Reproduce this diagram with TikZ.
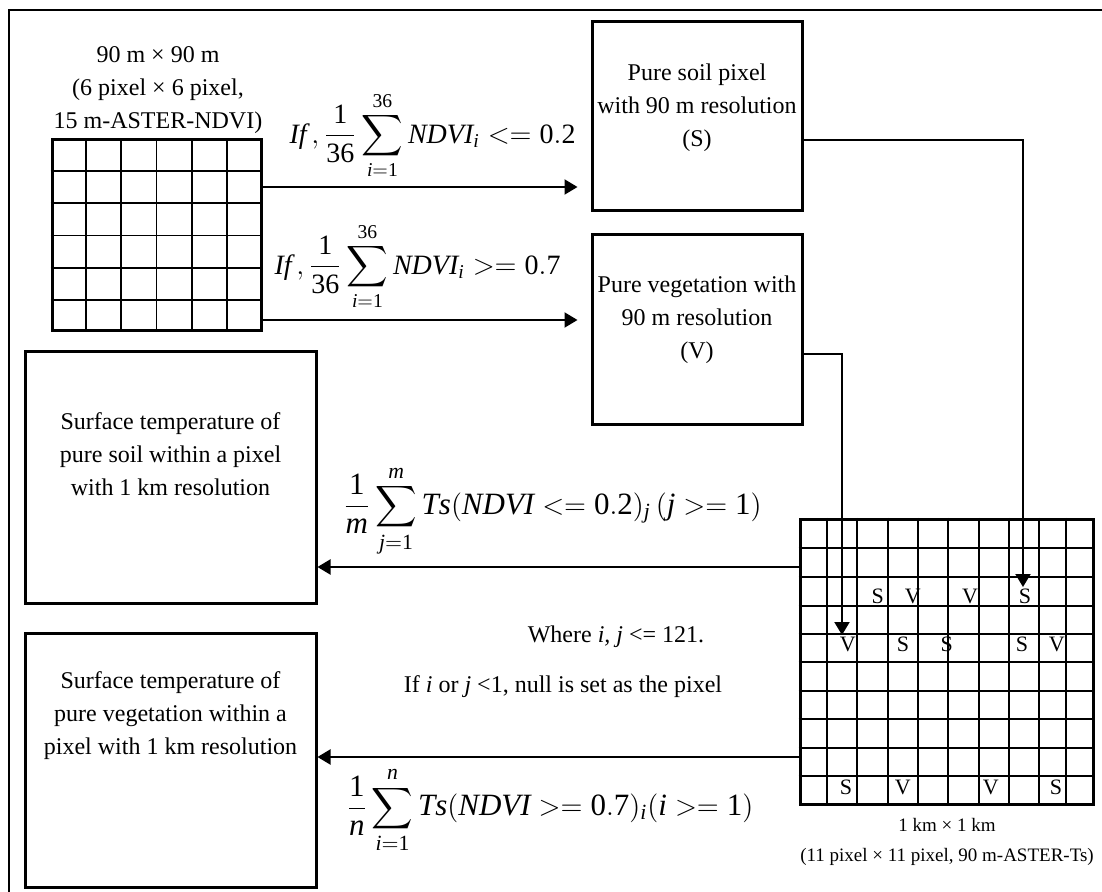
\documentclass[tikz,border=0pt]{standalone}
\usepackage{exscale}
\usepackage{fontspec}
\setmainfont{Liberation Serif}
\usetikzlibrary{arrows.meta,calc}

\begin{document}
\begin{tikzpicture}[x=0.5pt,y=-0.5pt,
  box/.style={draw,line width=1.5pt,inner sep=0pt},
  conn/.style={line width=1pt,-{Triangle[length=6.5pt,width=7.5pt]}},
  gridline/.style={line width=0.9pt},
  txt/.style={font=\fontsize{12}{16.5}\selectfont,align=center,inner sep=0pt},
  small/.style={font=\fontsize{9.5}{15}\selectfont,align=center,inner sep=0pt},
  pix/.style={font=\fontsize{11}{12}\selectfont,inner sep=0pt},
  eqa/.style={inner sep=0pt,font=\fontsize{14}{17}\selectfont},
  eqb/.style={inner sep=0pt,font=\fontsize{15.5}{19}\selectfont}]
\useasboundingbox (0,0) rectangle (1102,892);
\draw[line width=0.8pt] (1102,10) -- (9,10) -- (9,892);

\node[box,minimum width=104.5pt,minimum height=95.5pt] (ndvi) at (156.5,235.5) {};
\node[box,minimum width=105pt,minimum height=94.5pt] (soil) at (697,116.5) {};
\node[box,minimum width=105pt,minimum height=95pt] (veg) at (697,330) {};
\node[box,minimum width=145.5pt,minimum height=125.5pt] (tsoil) at (170.5,477.5) {};
\node[box,minimum width=145.5pt,minimum height=127pt] (tveg) at (170.5,760) {};
\node[box,minimum width=146.65pt,minimum height=142.35pt] (tsgrid) at (946.65,661.65) {};

\foreach \i in {1,...,5} {
  \draw[gridline] ($(ndvi.north west)!\i/6!(ndvi.north east)$) -- ($(ndvi.south west)!\i/6!(ndvi.south east)$);
  \draw[gridline] ($(ndvi.north west)!\i/6!(ndvi.south west)$) -- ($(ndvi.north east)!\i/6!(ndvi.south east)$);
}
\foreach \x in {826.7,857.3,887.7,918.3,948.3,979,1009.3,1039.3,1066}
  \draw[gridline] (tsgrid.north -| \x,0) -- (tsgrid.south -| \x,0);
\foreach \y in {548.3,576.7,606,634,662.3,690.7,719,747.7,776}
  \draw[gridline] (tsgrid.west |- 0,\y) -- (tsgrid.east |- 0,\y);

\foreach \x/\y/\t [count=\k] in {877.7/596/S,912.7/596/V,970/596/V,1025/596/S,
    847.7/644/V,903/644/S,946.7/644/S,1022/644/S,1056.7/644/V,
    846/787/S,902.7/787/V,990.7/787/V,1056/787/S}
  \node[pix] (px\k) at (\x,\y) {\t};

\node[txt] (ndvilbl) at (158,90) {90 m × 90 m\\(6 pixel × 6 pixel,\\15 m-ASTER-NDVI)};
\node[txt] (soiltxt) at ($(soil)+(0,-9)$) {Pure soil pixel\\with 90 m resolution\\(S)};
\node[txt] (vegtxt) at ($(veg)+(0,-10)$) {Pure vegetation with\\90 m resolution\\(V)};
\node[txt] (tsoiltxt) at ($(tsoil)+(0,-23)$) {Surface temperature of\\pure soil within a pixel\\with 1 km resolution};
\node[txt] (tvegtxt) at ($(tveg)+(0,-44)$) {Surface temperature of\\pure vegetation within a\\pixel with 1 km resolution};
\node[small] (tslbl) at (947,842) {1 km × 1 km\\(11 pixel × 11 pixel, 90 m-ASTER-Ts)};
\node[txt] (where) at (616,637) {Where \textit{i, j} <= 121.};
\node[txt] (ifnull) at (563,687) {If \textit{i} or \textit{j} <1, null is set as the pixel};

\node[eqa,anchor=south] (fsoil) at (432.5,180) {$\displaystyle \mathit{If}\,,\frac{\mathrm{1}}{\mathrm{36}}\sum_{\mathit{i}=\mathrm{1}}^{\mathrm{36}}\mathit{NDVI}_{\mathit{i}} <= \mathrm{0.2}$};
\node[eqa,anchor=south] (fveg) at (417.5,311) {$\displaystyle \mathit{If}\,,\frac{\mathrm{1}}{\mathrm{36}}\sum_{\mathit{i}=\mathrm{1}}^{\mathrm{36}}\mathit{NDVI}_{\mathit{i}} >= \mathrm{0.7}$};
\node[eqb,anchor=south] (ftsoil) at (552.5,557) {$\displaystyle \frac{\mathrm{1}}{\mathit{m}}\sum_{\mathit{j}=\mathrm{1}}^{\mathit{m}}\mathit{Ts}(\mathit{NDVI} <= \mathrm{0.2})_{\mathit{j}}\,(\mathit{j} >= \mathrm{1})$};
\node[eqb,anchor=north] (ftveg) at (550,766) {$\displaystyle \frac{\mathrm{1}}{\mathit{n}}\sum_{\mathit{i}=\mathrm{1}}^{\mathit{n}}\mathit{Ts}(\mathit{NDVI} >= \mathrm{0.7})_{\mathit{i}}(\mathit{i} >= \mathrm{1})$};

\coordinate (hitS) at (1023,587);
\coordinate (hitV) at (842,635);
\draw[conn,shorten >=6.5pt] (ndvi.east |- 0,187) -- (soil.west |- 0,187);
\draw[conn,shorten >=6.5pt] (ndvi.east |- 0,320) -- (veg.west |- 0,320);
\draw[conn] (soil.east |- 0,140) -| (hitS);
\draw[conn] (veg.east |- 0,354) -| (hitV);
\draw[conn] (tsgrid.west |- 0,567) -- (tsoil.east |- 0,567);
\draw[conn] (tsgrid.west |- 0,757) -- (tveg.east |- 0,757);
\end{tikzpicture}
\end{document}
